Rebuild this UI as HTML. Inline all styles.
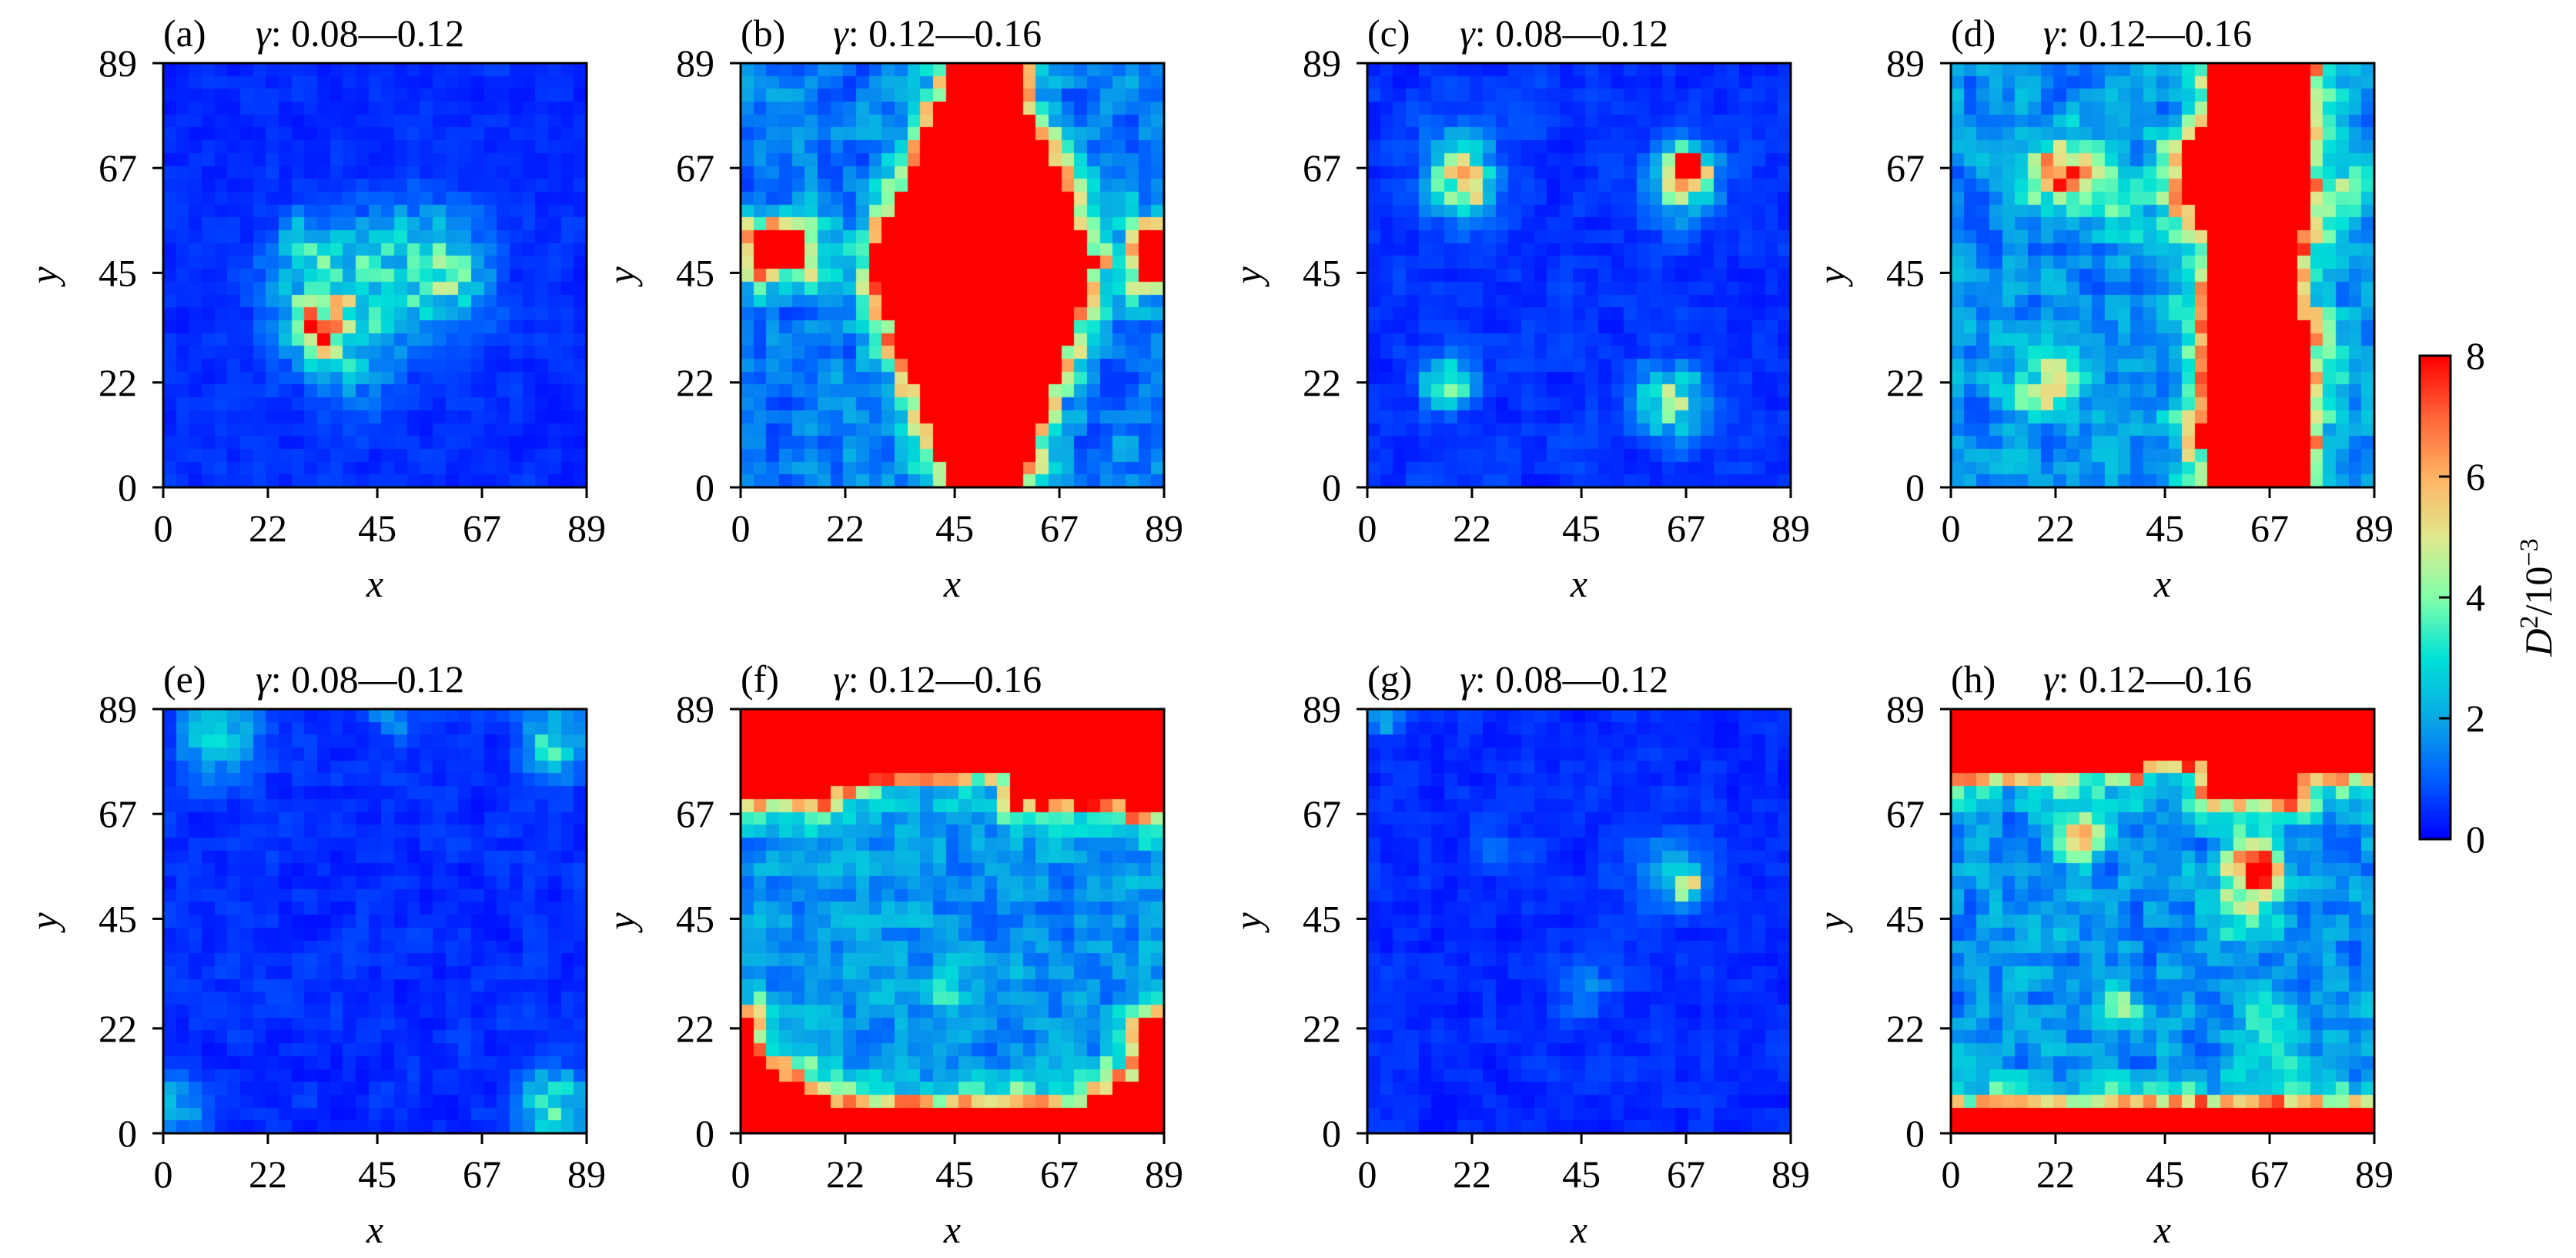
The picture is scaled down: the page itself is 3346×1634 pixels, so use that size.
<!DOCTYPE html>
<html><head><meta charset="utf-8">
<style>
html,body{margin:0;padding:0;background:#fff;}
#wrap{position:relative;width:3346px;height:1634px;overflow:hidden;}
canvas,svg{position:absolute;left:0;top:0;}
text{font-family:"Liberation Serif",serif;font-size:50px;fill:#000;}
.it{font-style:italic;}
</style></head><body>
<div id="wrap">
<canvas id="c" width="3346" height="1634"></canvas>
<svg id="s" width="3346" height="1634" xmlns="http://www.w3.org/2000/svg"></svg>
</div>
<script>
const N=33;
const cols=[212,962,1776,2534], rows=[82,921], W=550,H=551;
function hash0(i,j,s){let h=(i*374761393+j*668265263+s*982451653)|0;h=(h^(h>>>13))*1274126177|0;h=h^(h>>>16);return ((h>>>0)%100000)/100000;}
function hash(i,j,s){let t=hash0(i,j,s)*0.5;t+=0.125*(hash0(i+1,j,s)+hash0(i-1,j,s)+hash0(i,j+1,s)+hash0(i,j-1,s));return Math.max(0,Math.min(1,(t-0.5)*1.6+0.5));}
function g(x,y,x0,y0,s,a){return a*Math.exp(-((x-x0)**2+(y-y0)**2)/(2*s*s));}
const stops=[[0,[0,0,255]],[0.125,[0,95,255]],[0.25,[10,168,230]],[0.375,[0,225,215]],[0.5,[130,255,170]],[0.625,[225,232,140]],[0.75,[255,180,100]],[0.875,[255,100,55]],[1,[255,0,0]]];
function cmap(v){let t=Math.max(0,Math.min(1,v/8));for(let k=1;k<stops.length;k++){if(t<=stops[k][0]){const a=stops[k-1],b=stops[k];const f=(t-a[0])/(b[0]-a[0]);return 'rgb('+a[1].map((c,i)=>Math.round(c+(b[1][i]-c)*f)).join(',')+')';}}return 'rgb(255,0,0)';}
function grid(maskFn,valFn,seed,haloAmp){
  const cs=89/N;const m=[],v=[];
  for(let j=0;j<N;j++){m.push([]);v.push([]);for(let i=0;i<N;i++){const x=(i+0.5)*cs,y=(j+0.5)*cs;m[j].push(maskFn?maskFn(x,y,i,j):false);}}
  for(let j=0;j<N;j++)for(let i=0;i<N;i++){
    const x=(i+0.5)*cs,y=(j+0.5)*cs;const n=hash(i,j,seed),n2=hash0(i,j,seed+7);
    if(m[j][i]){v[j][i]=8.5;continue;}
    let val=valFn(x,y,n,n2);
    if(maskFn){let d=9;for(let dj=-3;dj<=3;dj++)for(let di=-3;di<=3;di++){const a=i+di,b=j+dj;if(a>=0&&a<N&&b>=0&&b<N&&m[b][a]){d=Math.min(d,Math.hypot(di,dj));}}
      const ha=haloAmp||1;if(d<=1)val+=ha*(2.5+3.5*n2);else if(d<=1.5)val+=ha*(1.8+2.5*n2);else if(d<=2.3)val+=ha*(0.6+1.5*n2);else if(d<=3.2)val+=ha*(0.2+0.8*n2);}
    v[j][i]=val;}
  return v;}
const P=[];
// a
P.push(grid(null,(x,y,n,n2)=>{const e=g(x,y,33,33,4,5)+g(x,y,36,40,9,2.8)+g(x,y,54,46,9,2.6)+g(x,y,62,43,4,1.5)+g(x,y,40,24,6,1.2)+g(x,y,30,52,4,1.5);return 0.2+0.5*n+e*(0.5+0.9*n2);},1));
// b
P.push(grid((x,y)=>{const hw=y>47?9+15*Math.max(0,1-(y-47)/34):8+16*Math.max(0,1-(47-y)/45);if(Math.abs(x-51)<hw)return true;if(x>3&&x<14&&y>47&&y<53)return true;if(x>84&&y>44&&y<53)return true;return false;},(x,y,n,n2)=>0.6+1.6*n,2,0.9));
// c
P.push(grid(null,(x,y,n,n2)=>{const e=g(x,y,20,63,4.5,4.5)+g(x,y,67,67,3,8.5)+g(x,y,66,63,5,2.8)+g(x,y,17,22,3.5,3.8)+g(x,y,64,18,5,3.5)+g(x,y,20,70,6,1.3);return 0.2+0.6*n+e*(0.6+0.8*n2);},3));
// d
P.push(grid((x,y,i,j)=>{let l=54.5,r=75.5;if(y>55&&y<76)l=51.5;if(y>60&&y<72)l=49;if(y>8&&y<14)l=51.5;if(y>35&&y<55)r=73;return x>l&&x<r;},(x,y,n,n2)=>{const e=g(x,y,24,66,5,6)+g(x,y,20,22,5,3.5)+g(x,y,38,58,6,1.2)+g(x,y,84,62,5,2);return 0.8+1.7*n+e*(0.5+0.8*n2);},4,0.9));
// e
P.push(grid(null,(x,y,n,n2)=>{const e=g(x,y,12,84,6,2.6)+g(x,y,83,83,5,3.2)+g(x,y,82,6,5,3.5)+g(x,y,3,6,4,2)+g(x,y,48,87,3,1.5);return 0.15+0.6*n+e*(0.5+0.8*n2);},5));
// f
P.push(grid((x,y)=>{let top=74;if(x<20)top=70;if(x>52&&x<80)top=71;if(x>80)top=68;if(x>26&&x<56)top=76;if(y>top)return true;const bot=5.5+14*Math.pow(Math.max(0,(Math.abs(x-46)-22)/24),1.5);if(y<bot)return true;if((x<4||x>84)&&y<24)return true;return false;},(x,y,n,n2)=>0.9+1.6*n+g(x,y,42,30,3,2),6,0.95));
// g
P.push(grid(null,(x,y,n,n2)=>{const e=g(x,y,67,52,2.5,3.5)+g(x,y,63,55,6,1.3)+g(x,y,3,87,2.5,2)+g(x,y,46,30,4,1)+g(x,y,28,60,4,0.6);return 0.15+0.55*n+e*(0.6+0.8*n2);},7));
// h
P.push(grid((x,y)=>{let top=76;if(x>40&&x<54)top=79;if(x>54&&x<72)top=69;if(y>top)return true;if(y<5.4)return true;return false;},(x,y,n,n2)=>{const e=g(x,y,27,62,3,7)+g(x,y,64,56,3.5,9)+g(x,y,62,48,6,2)+g(x,y,36,27,3,2.5)+g(x,y,68,20,6,1.5);return 0.8+1.8*n+e*(0.6+0.6*n2);},8,0.9));

const ctx=document.getElementById('c').getContext('2d');
const svg=document.getElementById('s');
let out='';
const labels=['a','b','c','d','e','f','g','h'];
const gam=['0.08—0.12','0.12—0.16'];
const ticks=[0,22,45,67,89];
for(let p=0;p<8;p++){
  const L=cols[p%4],T=rows[Math.floor(p/4)];const v=P[p];
  for(let j=0;j<N;j++)for(let i=0;i<N;i++){
    const x0=L+Math.round(i*W/N),x1=L+Math.round((i+1)*W/N);
    const y1=T+H-Math.round(j*H/N),y0=T+H-Math.round((j+1)*H/N);
    ctx.fillStyle=cmap(v[j][i]);ctx.fillRect(x0,y0,x1-x0,y1-y0);}
  out+=`<rect x="${L}" y="${T}" width="${W}" height="${H}" fill="none" stroke="#000" stroke-width="3"/>`;
  for(const t of ticks){
    const px=L+t/89*W, py=T+H-t/89*H;
    out+=`<line x1="${px}" y1="${T+H}" x2="${px}" y2="${T+H+14}" stroke="#000" stroke-width="3"/>`;
    out+=`<line x1="${L-14}" y1="${py}" x2="${L}" y2="${py}" stroke="#000" stroke-width="3"/>`;
    out+=`<text x="${px}" y="${T+H+70}" text-anchor="middle">${t}</text>`;
    out+=`<text x="${L-34}" y="${py+17}" text-anchor="end">${t}</text>`;
  }
  out+=`<text class="it" x="${L+W/2}" y="${T+H+142}" text-anchor="middle">x</text>`;
  out+=`<text class="it" transform="translate(${L-138},${T+H/2}) rotate(-90)" text-anchor="middle">y</text>`;
  out+=`<text x="${L}" y="${T-22}">(${labels[p]})</text>`;
  out+=`<text x="${L+120}" y="${T-22}"><tspan class="it">γ</tspan>: ${gam[p%2]}</text>`;
}
// colorbar
const cbL=3143,cbR=3183,cbT=462,cbB=1090;
for(let y=cbT;y<cbB;y++){ctx.fillStyle=cmap(8*(cbB-y)/(cbB-cbT));ctx.fillRect(cbL,y,cbR-cbL,1);}
out+=`<rect x="${cbL}" y="${cbT}" width="${cbR-cbL}" height="${cbB-cbT}" fill="none" stroke="#000" stroke-width="3"/>`;
for(let k=0;k<=8;k+=2){const py=cbB-k/8*(cbB-cbT);
  if(k>0&&k<8)out+=`<line x1="${cbR-15}" y1="${py}" x2="${cbR}" y2="${py}" stroke="#000" stroke-width="3"/>`;
  out+=`<text x="${cbR+20}" y="${py+17}">${k}</text>`;}
out+=`<text transform="translate(3314,${(cbT+cbB)/2}) rotate(-90)" text-anchor="middle"><tspan class="it">D</tspan><tspan font-size="34" dy="-18">2</tspan><tspan dy="18">/10</tspan><tspan font-size="34" dy="-18">−3</tspan></text>`;
svg.innerHTML=out;
</script>
</body></html>
